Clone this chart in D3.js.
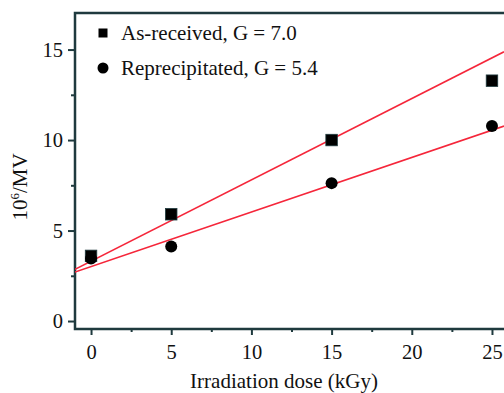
<!DOCTYPE html>
<html>
<head>
<meta charset="utf-8">
<script src="https://cdn.jsdelivr.net/npm/d3@7"></script>
<style>
  body { margin: 0; background: #fff; }
  svg text { font-family: "Liberation Serif", "DejaVu Serif", serif; fill: #111; }
</style>
</head>
<body>
<div id="chart"></div>
<script>
// data
var doses = [0, 5, 15, 25];
var asReceived = [3.6, 5.9, 10.0, 13.28];
var reprecipitated = [3.45, 4.12, 7.62, 10.77];
// fitted lines, as drawn (end points)
var fitAsReceived = [[-1, 2.86], [25.75, 14.88]];
var fitReprecipitated = [[-1, 2.71], [25.75, 10.77]];
var legendLabels = ["As-received, G = 7.0", "Reprecipitated, G = 5.4"];
var xTicks = [0, 5, 10, 15, 20, 25];
var xMinor = [2.5, 7.5, 12.5, 17.5, 22.5];
var yTicks = [0, 5, 10, 15];
var yMinor = [2.5, 7.5, 12.5];

var width = 504;
var height = 393;
var axisColor = "#1f3a3e";
var lineColor = "#f5263a";

var svg = d3.select("#chart")
            .append("svg")
            .attr("width", width)
            .attr("height", height);

var xScale = d3.scaleLinear()
                .domain([-1, 25.75])
                .range([75, 504]);

var yScale = d3.scaleLinear()
                .domain([-0.44, 17.02])
                .range([329, 13]);

// clip for plot area
svg.append("clipPath").attr("id", "plot")
   .append("rect")
   .attr("x", 75).attr("y", 13)
   .attr("width", 504 - 75).attr("height", 329 - 13);

// axes
function styleAxis(g) {
    g.select(".domain").remove();
    g.selectAll("line").attr("stroke", axisColor).attr("stroke-width", 2);
    g.selectAll("text").attr("font-size", 20.5).attr("font-family", "Liberation Serif").attr("fill", "#111");
}

var xAxis = d3.axisBottom(xScale).tickValues(xTicks).tickSize(6).tickPadding(9);
var xMinorAxis = d3.axisBottom(xScale).tickValues(xMinor).tickSize(3).tickFormat("");
var yAxis = d3.axisLeft(yScale).tickValues(yTicks).tickSize(7).tickPadding(5);
var yMinorAxis = d3.axisLeft(yScale).tickValues(yMinor).tickSize(4).tickFormat("");

svg.append("g").attr("transform", "translate(0,329)").call(xAxis).call(styleAxis);
svg.append("g").attr("transform", "translate(0,329)").call(xMinorAxis).call(styleAxis);
svg.append("g").attr("transform", "translate(75,0)").call(yAxis).call(styleAxis);
svg.append("g").attr("transform", "translate(75,0)").call(yMinorAxis).call(styleAxis);

// frame: left, bottom, top
svg.append("path")
   .attr("d", "M504,13H75V329H504")
   .attr("fill", "none")
   .attr("stroke", axisColor)
   .attr("stroke-width", 2.5);

// fit lines
var line = d3.line()
             .x(function(d){ return xScale(d[0]); })
             .y(function(d){ return yScale(d[1]); });

svg.selectAll(".fit")
   .data([fitAsReceived, fitReprecipitated])
   .enter()
   .append("path")
   .attr("class", "fit")
   .attr("clip-path", "url(#plot)")
   .attr("d", line)
   .attr("fill", "none")
   .attr("stroke", lineColor)
   .attr("stroke-width", 1.6);

// squares
var sq = 11.5;
svg.selectAll(".sq")
   .data(asReceived)
   .enter()
   .append("rect")
   .attr("x", function(d, i){ return xScale(doses[i]) - sq / 2; })
   .attr("y", function(d){ return yScale(d) - sq / 2; })
   .attr("width", sq).attr("height", sq)
   .attr("fill", "#000")
   .attr("stroke", axisColor).attr("stroke-width", 0.8);

// circles
svg.selectAll(".dot")
   .data(reprecipitated)
   .enter()
   .append("circle")
   .attr("cx", function(d, i){ return xScale(doses[i]); })
   .attr("cy", function(d){ return yScale(d); })
   .attr("r", 6)
   .attr("fill", "#000");

// legend
svg.append("rect")
   .attr("x", 98.5).attr("y", 28.5)
   .attr("width", 9).attr("height", 9)
   .attr("fill", "#000");
svg.append("circle")
   .attr("cx", 103).attr("cy", 68)
   .attr("r", 5.5)
   .attr("fill", "#000");

svg.selectAll(".leg")
   .data(legendLabels)
   .enter()
   .append("text")
   .attr("x", 121)
   .attr("y", function(d, i){ return 40 + i * 35; })
   .attr("font-size", 21)
   .text(function(d){ return d; });

// axis titles
svg.append("text")
   .attr("x", 284)
   .attr("y", 388)
   .attr("text-anchor", "middle")
   .attr("font-size", 21)
   .text("Irradiation dose (kGy)");

var yTitle = svg.append("text")
   .attr("transform", "translate(27,187) rotate(-90)")
   .attr("text-anchor", "middle")
   .attr("font-size", 21);
yTitle.append("tspan").text("10");
yTitle.append("tspan").attr("dy", -8).attr("font-size", 13).text("6");
yTitle.append("tspan").attr("dy", 8).text("/MV");

</script>
</body>
</html>
